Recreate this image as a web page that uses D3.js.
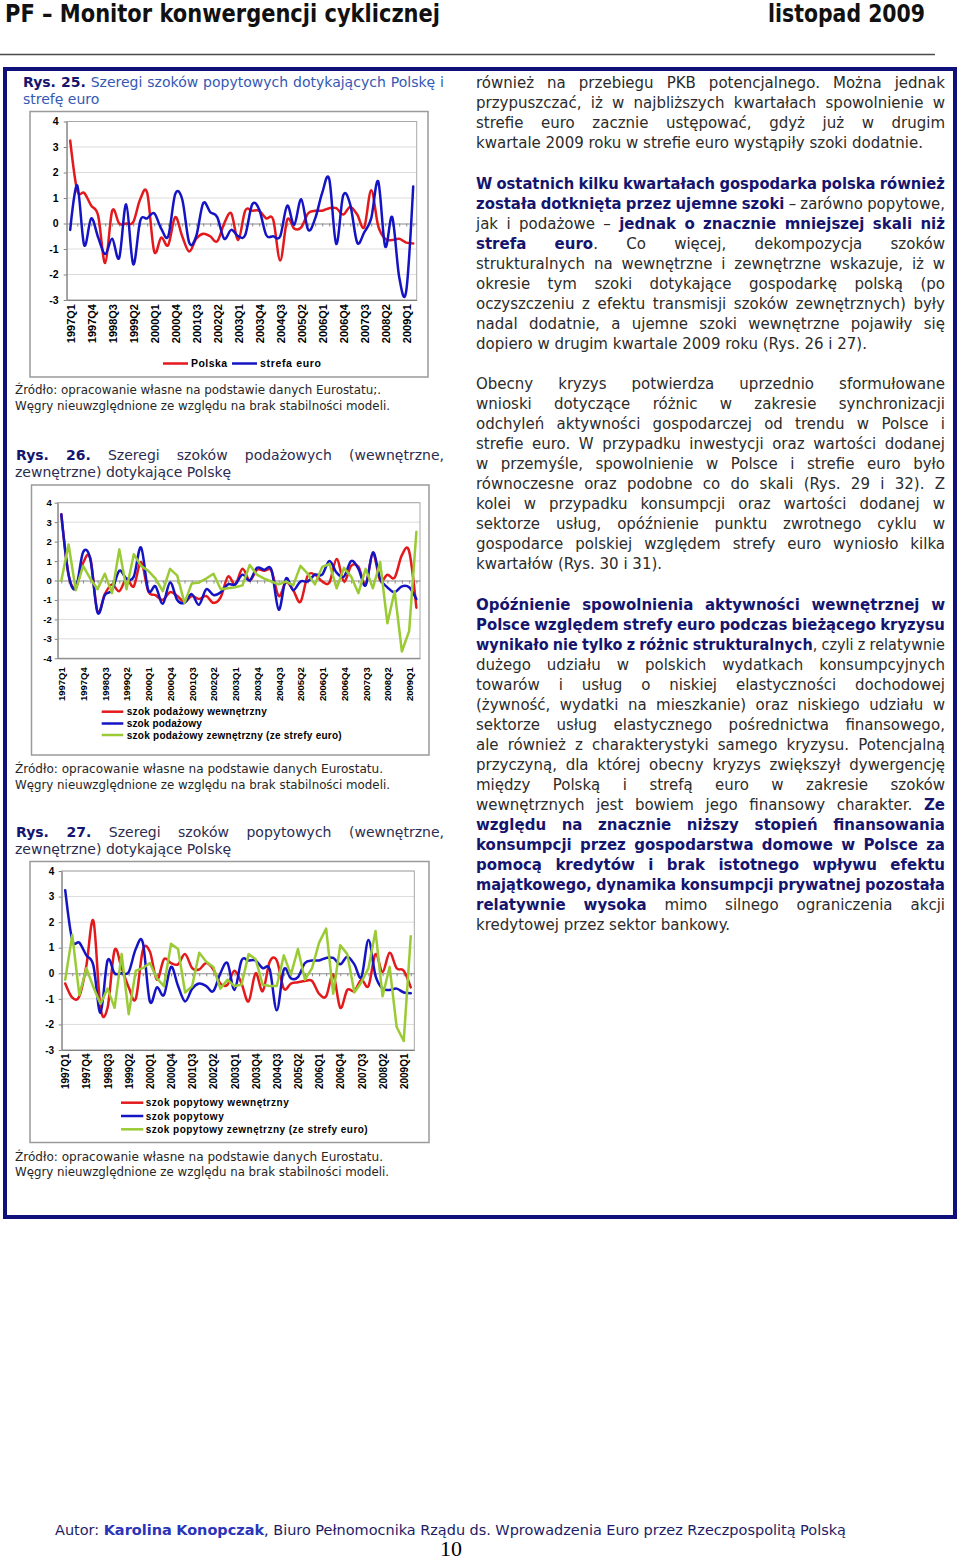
<!DOCTYPE html>
<html><head><meta charset="utf-8"><title>PF – Monitor konwergencji cyklicznej</title>
<script src="https://cdn.jsdelivr.net/npm/d3@7/dist/d3.min.js"></script>
<style>html,body{margin:0;padding:0;background:#fff}svg{display:block}</style>
</head><body>
<script>
// ---------- DATA ----------
const quarters=["1997Q1","1997Q2","1997Q3","1997Q4","1998Q1","1998Q2","1998Q3","1998Q4","1999Q1","1999Q2","1999Q3","1999Q4","2000Q1","2000Q2","2000Q3","2000Q4","2001Q1","2001Q2","2001Q3","2001Q4","2002Q1","2002Q2","2002Q3","2002Q4","2003Q1","2003Q2","2003Q3","2003Q4","2004Q1","2004Q2","2004Q3","2004Q4","2005Q1","2005Q2","2005Q3","2005Q4","2006Q1","2006Q2","2006Q3","2006Q4","2007Q1","2007Q2","2007Q3","2007Q4","2008Q1","2008Q2","2008Q3","2008Q4","2009Q1","2009Q2"];
const xTickLabels=["1997Q1","1997Q4","1998Q3","1999Q2","2000Q1","2000Q4","2001Q3","2002Q2","2003Q1","2003Q4","2004Q3","2005Q2","2006Q1","2006Q4","2007Q3","2008Q2","2009Q1"];
const yTicks7=[-3,-2,-1,0,1,2,3,4];
const yTicks8=[-4,-3,-2,-1,0,1,2,3,4];

// Rys. 25 "Polska" = Rys. 27 "szok popytowy"
const demandPoland=[3.25,1.3,1.2,0.7,0.3,-1.55,0.5,0.0,0.0,0.05,0.95,1.2,-1.1,-0.55,-0.85,0.25,-0.5,-1.1,-0.6,-0.4,-0.5,-0.7,0.0,0.4,-0.65,0.5,0.5,0.5,0.2,0.15,-1.45,0.15,-0.2,-0.15,0.4,0.5,0.5,0.6,0.6,0.35,0.65,0.35,-0.15,1.3,-0.1,-0.6,-0.65,-0.6,-0.75,-0.78];
// Rys. 25 "strefa euro" = Rys. 27 "szok popytowy zewnętrzny"
const demandEuro=[-0.25,1.5,-0.85,0.2,-0.55,-1.2,-0.6,-1.35,0.75,-1.6,0.1,0.2,0.4,-0.2,-0.5,1.15,0.95,-0.75,-0.5,0.8,0.45,0.25,-0.6,-0.25,-0.5,-0.45,0.75,0.55,-0.45,-0.5,-0.5,0.7,-0.05,0.95,-0.25,0.2,1.2,1.75,-0.8,1.1,0.75,-0.75,-0.35,0.2,1.65,-0.9,0.25,-2.1,-2.65,1.45];
const demandInternal=[-0.4,-0.95,-0.9,0.3,2.05,-1.35,-1.35,0.9,0.2,-0.55,-1.0,0.9,0.85,-0.25,0.55,0.4,0.35,0.75,0.2,0.15,0.4,0.15,-0.4,-0.45,0.1,-0.4,-1.1,0.0,-0.7,0.45,0.5,-0.6,-0.4,-0.35,-0.3,-0.3,-0.8,-0.9,-0.05,-1.35,-0.65,-0.7,-0.25,-0.5,0.75,0.05,0.8,0.2,0.1,-0.55];
const supplyInternal=[3.4,0.3,-0.35,0.9,1.15,-1.6,-0.7,-0.2,-0.55,0.1,-0.3,0.95,-0.55,-0.75,-1.0,-0.6,-0.8,-1.1,-0.8,-0.95,-0.8,-1.15,-0.85,0.2,-0.2,0.6,0.0,0.55,0.5,0.5,-0.8,-0.1,-0.5,-1.1,0.25,0.3,-0.05,-0.1,1.1,-0.05,0.75,0.7,-0.2,1.4,0.0,0.3,0.15,1.3,1.5,-1.4];
const supplyTotal=[3.4,0.3,-0.4,1.45,1.1,-1.65,-0.75,-0.5,0.5,0.1,0.2,1.7,-0.5,-0.3,-1.2,-0.1,-1.0,-1.15,-0.7,-1.25,-0.45,-0.75,-0.6,-0.2,-0.2,0.3,0.0,0.65,0.55,0.55,-1.5,0.1,-0.5,-0.05,-0.05,0.3,0.3,1.0,0.4,0.2,1.0,0.6,-0.25,1.45,0.1,-0.35,-0.6,-0.3,-0.35,-0.95];
const supplyExternal=[0.0,1.85,-0.5,0.75,0.1,-0.45,0.35,-0.65,1.6,-0.45,1.35,0.75,0.5,0.1,-0.55,0.6,0.25,-1.15,-0.15,-0.1,0.1,0.35,-0.45,-0.4,-0.35,-0.25,0.8,0.3,0.1,-0.05,-0.2,-0.05,-0.25,0.75,0.35,-0.2,0.7,0.85,-0.4,0.65,0.2,-0.65,0.6,-0.4,0.95,-2.2,-0.55,-3.65,-2.6,2.5];

const legend25=["Polska","strefa euro"];
const legend26=["szok podażowy wewnętrzny","szok podażowy","szok podażowy zewnętrzny (ze strefy euro)"];
const legend27=["szok popytowy wewnętrzny","szok popytowy","szok popytowy zewnętrzny (ze strefy euro)"];

// ---------- TEXT ----------
const headerLeft="PF – Monitor konwergencji cyklicznej";
const headerRight="listopad 2009";
const title25=[[["Rys. 25.","r"],[" Szeregi szoków popytowych dotykających Polskę i","t1"]],[["strefę euro","t1"]]];
const title26=[[["Rys. 26.","r"],[" Szeregi szoków podażowych (wewnętrzne,","t2"]],[["zewnętrzne) dotykające Polskę","t2"]]];
const title27=[[["Rys. 27.","r"],[" Szeregi szoków popytowych (wewnętrzne,","t2"]],[["zewnętrzne) dotykające Polskę","t2"]]];
const source25=["Źródło: opracowanie własne na podstawie danych Eurostatu;.","Węgry nieuwzględnione ze względu na brak stabilności modeli."];
const source26=["Źródło: opracowanie własne na podstawie danych Eurostatu.","Węgry nieuwzględnione ze względu na brak stabilności modeli."];
const source27=["Źródło: opracowanie własne na podstawie danych Eurostatu.","Węgry nieuwzględnione ze względu na brak stabilności modeli."];

const para1=[
 [["również na przebiegu PKB potencjalnego. Można jednak","n"]],
 [["przypuszczać, iż w najbliższych kwartałach spowolnienie w","n"]],
 [["strefie euro zacznie ustępować, gdyż już w drugim","n"]],
 [["kwartale 2009 roku w strefie euro wystąpiły szoki dodatnie.","n"]]];
const para2=[
 [["W ostatnich kilku kwartałach gospodarka polska również","b"]],
 [["została dotknięta przez ujemne szoki","b"],[" – zarówno popytowe,","n"]],
 [["jak i podażowe – ","n"],["jednak o znacznie mniejszej skali niż","b"]],
 [["strefa euro","b"],[". Co więcej, dekompozycja szoków","n"]],
 [["strukturalnych na wewnętrzne i zewnętrzne wskazuje, iż w","n"]],
 [["okresie tym szoki dotykające gospodarkę polską (po","n"]],
 [["oczyszczeniu z efektu transmisji szoków zewnętrznych) były","n"]],
 [["nadal dodatnie, a ujemne szoki wewnętrzne pojawiły się","n"]],
 [["dopiero w drugim kwartale 2009 roku (Rys. 26 i 27).","n"]]];
const para3=[
 [["Obecny kryzys potwierdza uprzednio sformułowane","n"]],
 [["wnioski dotyczące różnic w zakresie synchronizacji","n"]],
 [["odchyleń aktywności gospodarczej od trendu w Polsce i","n"]],
 [["strefie euro. W przypadku inwestycji oraz wartości dodanej","n"]],
 [["w przemyśle, spowolnienie w Polsce i strefie euro było","n"]],
 [["równoczesne oraz podobne co do skali (Rys. 29 i 32). Z","n"]],
 [["kolei w przypadku konsumpcji oraz wartości dodanej w","n"]],
 [["sektorze usług, opóźnienie punktu zwrotnego cyklu w","n"]],
 [["gospodarce polskiej względem strefy euro wyniosło kilka","n"]],
 [["kwartałów (Rys. 30 i 31).","n"]]];
const para4=[
 [["Opóźnienie spowolnienia aktywności wewnętrznej w","b"]],
 [["Polsce względem strefy euro podczas bieżącego kryzysu","b"]],
 [["wynikało nie tylko z różnic strukturalnych","b"],[", czyli z relatywnie","n"]],
 [["dużego udziału w polskich wydatkach konsumpcyjnych","n"]],
 [["towarów i usług o niskiej elastyczności dochodowej","n"]],
 [["(żywność, wydatki na mieszkanie) oraz niskiego udziału w","n"]],
 [["sektorze usług elastycznego pośrednictwa finansowego,","n"]],
 [["ale również z charakterystyki samego kryzysu. Potencjalną","n"]],
 [["przyczyną, dla której obecny kryzys zwiększył dywergencję","n"]],
 [["między Polską i strefą euro w zakresie szoków","n"]],
 [["wewnętrznych jest bowiem jego finansowy charakter. ","n"],["Ze","b"]],
 [["względu na znacznie niższy stopień finansowania","b"]],
 [["konsumpcji przez gospodarstwa domowe w Polsce za","b"]],
 [["pomocą kredytów i brak istotnego wpływu efektu","b"]],
 [["majątkowego, dynamika konsumpcji prywatnej pozostała","b"]],
 [["relatywnie wysoka","b"],[" mimo silnego ograniczenia akcji","n"]],
 [["kredytowej przez sektor bankowy.","n"]]];
const footerSegs=[["Autor: ","fa"],["Karolina Konopczak","fb"],[", Biuro Pełnomocnika Rządu ds. Wprowadzenia Euro przez Rzeczpospolitą Polską","fa"]];
const pageNumber="10";

// ---------- STYLES ----------
const BODY="'DejaVu Sans','Noto Sans',sans-serif";
const ARIAL="'Liberation Sans',Arial,sans-serif";
const NAVY="#15156e";
const RED="#e3191c", BLUE="#1414c4", GREEN="#9acb34";
const styles={
 n:{family:BODY,size:15,weight:"normal",fill:"#2b2b2b"},
 b:{family:BODY,size:15,weight:"bold",fill:NAVY},
 r:{family:BODY,size:14,weight:"bold",fill:NAVY},
 t1:{family:BODY,size:14,weight:"normal",fill:"#3458b4"},
 t2:{family:BODY,size:14,weight:"normal",fill:"#2c2c50"},
 src:{family:BODY,size:12.5,weight:"normal",fill:"#262626"},
 fa:{family:BODY,size:14,weight:"normal",fill:"#1c1c66"},
 fb:{family:BODY,size:14,weight:"bold",fill:"#2a34b8"}
};

const svg=d3.select("body").append("svg").attr("width",960).attr("height",1568);
svg.append("rect").attr("width",960).attr("height",1568).attr("fill","#fff");
const meas=svg.append("text").attr("visibility","hidden");
function applyStyle(sel,s){sel.attr("font-family",s.family).attr("font-size",s.size).attr("font-weight",s.weight).attr("fill",s.fill);}
function measure(t,s){meas.call(applyStyle,s).text(t);return meas.node().getComputedTextLength();}
function spaceW(s){return measure("a a",s)-measure("aa",s);}

// mode: "justify" | "left" | "fit"
function drawLine(g,segs,x0,x1,y,mode,minGap){
  const words=[];let cur=[];
  segs.forEach(([t,k])=>{
    t.split(" ").forEach((p,j)=>{
      if(j>0){if(cur.length)words.push(cur);cur=[];}
      if(p.length)cur.push({t:p,k:k});
    });
  });
  if(cur.length)words.push(cur);
  words.forEach(w=>{w.forEach(s=>{s.w=measure(s.t,styles[s.k]);});w.w=d3.sum(w,s=>s.w);});
  const n=words.length,total=d3.sum(words,w=>w.w),W=x1-x0;
  const sp=spaceW(styles[segs[0][1]]);
  let gap,scale=1;
  const mg=minGap||4;
  if(mode==="justify"&&n>1){gap=(W-total)/(n-1);if(gap<mg){gap=mg;scale=(W-gap*(n-1))/total;}}
  else if(mode==="fit"){gap=sp;scale=(W-gap*(n-1))/total;}
  else{gap=sp;if(total+gap*(n-1)>W){scale=(W-gap*(n-1))/total;}}
  let x=x0;
  words.forEach(w=>{
    const t=g.append("text").attr("transform",`translate(${x},${y}) scale(${scale},1)`).call(applyStyle,styles[w[0].k]);
    w.forEach(s=>{t.append("tspan").text(s.t).call(applyStyle,styles[s.k]);});
    x+=w.w*scale+gap;
  });
}
function drawPara(lines,x0,x1,y0,lh){
  const g=svg.append("g");
  lines.forEach((segs,i)=>drawLine(g,segs,x0,x1,y0+i*lh,i<lines.length-1?"justify":"left",4.2));
}

// ---------- PAGE CHROME ----------
const HEADF="'DejaVu Sans Condensed','Liberation Sans Narrow','DejaVu Sans',sans-serif";
svg.append("text").attr("x",5).attr("y",22).text(headerLeft)
  .attr("font-family",HEADF).attr("font-weight","bold").attr("font-size",24).attr("fill","#111")
  .attr("textLength",435).attr("lengthAdjust","spacingAndGlyphs");
svg.append("text").attr("x",768).attr("y",22).text(headerRight)
  .attr("font-family",HEADF).attr("font-weight","bold").attr("font-size",24).attr("fill","#111")
  .attr("textLength",157).attr("lengthAdjust","spacingAndGlyphs");
svg.append("line").attr("x1",0).attr("x2",935).attr("y1",54.5).attr("y2",54.5).attr("stroke","#4a4a4a").attr("stroke-width",1.5);
svg.append("rect").attr("x",5).attr("y",69).attr("width",950).attr("height",1148)
  .attr("fill","none").attr("stroke","#10107a").attr("stroke-width",4);

// ---------- RIGHT COLUMN ----------
drawPara(para1,476,945,88,20);
drawPara(para2,476,945,189,20);
drawPara(para3,476,945,389,20);
drawPara(para4,476,945,610,20);

// ---------- CHART TITLES / SOURCES ----------
function drawTitle(t,x0,x1,y0,lh,x2){
  const g=svg.append("g");
  drawLine(g,t[0],x0,x1,y0,"justify",4);
  drawLine(g,t[1],x2,x1,y0+lh,"left");
}
drawTitle(title25,23,444,87,17,23);
drawTitle(title26,16,444,460,17,15);
drawTitle(title27,16,444,837,17,15);
function drawSource(lines,y0,widths){
  lines.forEach((t,i)=>svg.append("text").attr("x",15).attr("y",y0+i*15.5).text(t)
    .call(applyStyle,styles.src).attr("textLength",widths[i]).attr("lengthAdjust","spacingAndGlyphs"));
}
drawSource(source25,394,[366,375]);
drawSource(source26,773,[368,375]);
drawSource(source27,1160.5,[368,374]);

// ---------- CHARTS ----------
function drawChart(c){
  const g=svg.append("g");
  g.append("rect").attr("x",c.box[0]).attr("y",c.box[1]).attr("width",c.box[2]-c.box[0]).attr("height",c.box[3]-c.box[1])
    .attr("fill","#fff").attr("stroke","#9a9a9a").attr("stroke-width",1.5);
  const x=d3.scalePoint().domain(quarters).range([c.left,c.right]).padding(0.5);
  const y=d3.scaleLinear().domain([c.yTicks[0],c.yTicks[c.yTicks.length-1]]).range([c.bottom,c.top]);
  g.append("g").selectAll("line").data(c.yTicks.filter(v=>v!==0)).join("line")
    .attr("x1",c.left).attr("x2",c.right).attr("y1",d=>y(d)).attr("y2",d=>y(d))
    .attr("stroke","#dcdcdc").attr("stroke-width",1);
  g.append("rect").attr("x",c.left).attr("y",c.top).attr("width",c.right-c.left).attr("height",c.bottom-c.top)
    .attr("fill","none").attr("stroke","#a8a8a8").attr("stroke-width",1);
  const zero=g.append("g").attr("transform",`translate(0,${y(0)})`)
    .call(d3.axisBottom(x).tickValues(quarters).tickSize(3).tickSizeOuter(0).tickFormat(""));
  zero.select(".domain").attr("stroke","#8a8a8a");
  zero.selectAll(".tick line").attr("stroke","#8a8a8a");
  const ya=g.append("g").attr("transform",`translate(${c.left},0)`)
    .call(d3.axisLeft(y).tickValues(c.yTicks).tickSize(3).tickSizeOuter(0).tickPadding(c.yPad).tickFormat(d=>String(d)));
  ya.select(".domain").attr("stroke","#808080");
  ya.selectAll(".tick line").attr("stroke","#808080");
  ya.selectAll("text").attr("font-family",ARIAL).attr("font-weight","bold").attr("font-size",c.fsY).attr("fill","#000");
  const xa=g.append("g").attr("transform",`translate(0,${c.bottom})`)
    .call(d3.axisBottom(x).tickValues(xTickLabels).tickSize(0).tickSizeOuter(0));
  xa.select(".domain").attr("stroke","#808080");
  xa.selectAll("text").attr("font-family",ARIAL).attr("font-weight","bold").attr("font-size",c.fsX).attr("fill","#000")
    .attr("transform","rotate(-90)").attr("text-anchor","end").attr("x",-c.xGap).attr("y",0).attr("dy","0.36em");
  c.series.forEach(s=>{
    const line=d3.line().x((d,i)=>x(quarters[i])).y(d=>y(d))
      .curve(s.smooth?d3.curveCatmullRom.alpha(0):d3.curveLinear);
    g.append("path").datum(s.data).attr("d",line).attr("fill","none").attr("stroke",s.color)
      .attr("stroke-width",2.5).attr("stroke-linejoin","round").attr("stroke-linecap","round");
  });
  c.legend.forEach((l,i)=>{
    const s=c.series[i];
    g.append("line").attr("x1",l.x1).attr("x2",l.x2).attr("y1",l.y).attr("y2",l.y).attr("stroke",s.color).attr("stroke-width",2.5);
    g.append("text").attr("x",l.tx).attr("y",l.y).attr("dy","0.35em").text(s.name)
      .attr("font-family",ARIAL).attr("font-weight","bold").attr("font-size",c.fsL).attr("fill","#000")
      .attr("textLength",l.tw).attr("lengthAdjust","spacing");
  });
}

drawChart({box:[30,111.5,428,377],left:66.7,right:416.7,top:121.5,bottom:300,yTicks:yTicks7,
  fsY:10.5,fsX:11,fsL:10.5,xGap:4,yPad:5,
  series:[{data:demandPoland,color:RED,smooth:true,name:legend25[0]},{data:demandEuro,color:BLUE,smooth:true,name:legend25[1]}],
  legend:[{x1:163,x2:188,tx:191,tw:36,y:363.5},{x1:232,x2:257,tx:260,tw:61,y:363.5}]});

drawChart({box:[31.5,485,429,755],left:57.7,right:420,top:502.7,bottom:658.3,yTicks:yTicks8,
  fsY:9.5,fsX:9.5,fsL:10,xGap:9,yPad:3,
  series:[{data:supplyInternal,color:RED,smooth:true,name:legend26[0]},{data:supplyTotal,color:BLUE,smooth:true,name:legend26[1]},{data:supplyExternal,color:GREEN,smooth:false,name:legend26[2]}],
  legend:[{x1:101.7,x2:123.3,tx:126.7,tw:140,y:711.7},{x1:101.7,x2:123.3,tx:126.7,tw:75,y:723.5},{x1:101.7,x2:123.3,tx:126.7,tw:215,y:735}]});

drawChart({box:[30,861.5,429,1142.5],left:61.7,right:414.3,top:871,bottom:1050,yTicks:yTicks7,
  fsY:10,fsX:10,fsL:10,xGap:3.5,yPad:4.5,
  series:[{data:demandInternal,color:RED,smooth:true,name:legend27[0]},{data:demandPoland,color:BLUE,smooth:true,name:legend27[1]},{data:demandEuro,color:GREEN,smooth:false,name:legend27[2]}],
  legend:[{x1:121,x2:143.3,tx:145.7,tw:143,y:1102.7},{x1:121,x2:143.3,tx:145.7,tw:78,y:1116},{x1:121,x2:143.3,tx:145.7,tw:222,y:1129.3}]});

// ---------- FOOTER ----------
(function(){
  const g=svg.append("g");
  drawLine(g,footerSegs,55,846,1535,"fit");
  svg.append("text").attr("x",451).attr("y",1556).attr("text-anchor","middle").text(pageNumber)
    .attr("font-family","'Liberation Serif','DejaVu Serif',serif").attr("font-size",22).attr("fill","#000");
})();
meas.remove();
</script>
</body></html>
